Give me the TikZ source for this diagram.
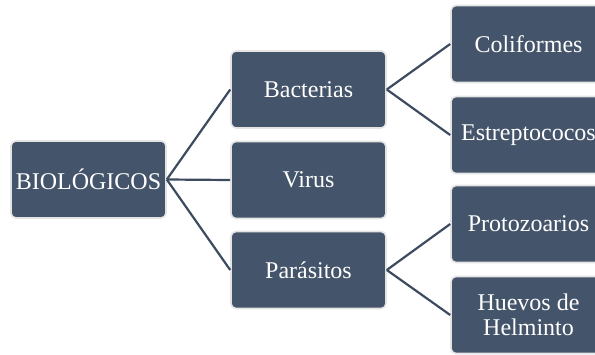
\documentclass[tikz,border=0pt]{standalone}
\usepackage{fontspec}
\setmainfont{Liberation Serif}
\definecolor{boxfill}{HTML}{44546A}
\definecolor{boxedge}{HTML}{E4E4E4}
\definecolor{linkcol}{HTML}{3D4B60}
\begin{document}
\begin{tikzpicture}[x=1pt,y=-1pt,
  box/.style={rectangle, rounded corners=5pt, fill=boxfill, draw=boxedge, line width=1.6pt,
    minimum width=155pt, minimum height=77pt, inner sep=1pt, text=white, align=center,
    font=\fontsize{24}{25}\selectfont},
  link/.style={draw=linkcol, line width=2.2pt}]
\useasboundingbox (0,0) rectangle (595,354);
\clip (0,0) rectangle (595,354);
\node[box] (bio) at (88.5,179.5) {BIOLÓGICOS};
\node[box] (bac) at (308.5,89.5) {Bacterias};
\node[box] (vir) at (308.5,180) {Virus};
\node[box] (par) at (308.5,270) {Parásitos};
\node[box] (col) at (528.5,44) {Coliformes};
\node[box] (est) at (528.5,135) {Estreptococos};
\node[box] (pro) at (528.5,224) {Protozoarios};
\node[box] (hue) at (528.5,315) {Huevos de\\Helminto};
\draw[link] (bio.east) -- (bac.west);
\draw[link] (bio.east) -- (vir.west);
\draw[link] (bio.east) -- (par.west);
\draw[link] (bac.east) -- (col.west);
\draw[link] (bac.east) -- (est.west);
\draw[link] (par.east) -- (pro.west);
\draw[link] (par.east) -- (hue.west);
\end{tikzpicture}
\end{document}
